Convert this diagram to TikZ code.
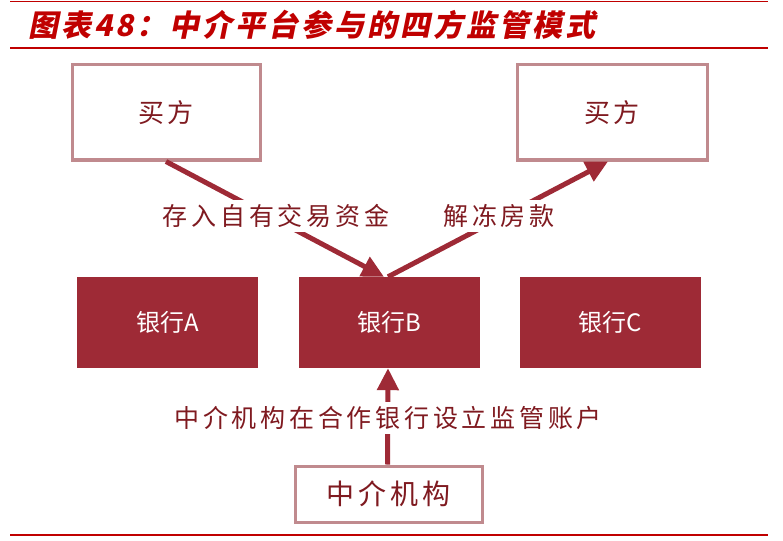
\documentclass[tikz,border=0pt]{standalone}
\usepackage{fontspec}
\setmainfont{Noto Sans CJK SC}
\newfontfamily\titlefont[LetterSpace=10,BoldFeatures={FakeSlant=0.2}]{Noto Sans CJK SC}
\newfontfamily\lblfont[LetterSpace=15]{Noto Sans CJK SC}
\usetikzlibrary{arrows.meta}
\definecolor{brick}{HTML}{9E2A36}
\definecolor{pinkline}{HTML}{C08A8E}
\definecolor{txtred}{HTML}{7F1A20}
\definecolor{titlered}{HTML}{C00000}
\tikzset{
  buyer/.style={draw=pinkline, line width=3pt, fill=white, text=txtred, font=\lblfont\fontsize{26}{30}\selectfont},
  bank/.style={fill=brick, text=white, minimum width=181pt, minimum height=91pt, font=\fontsize{24}{28}\selectfont},
  flow/.style={draw=brick, line width=5pt, -{Triangle[length=22pt,width=21pt]}},
  lbl/.style={fill=white, text=txtred, inner sep=4pt, font=\lblfont\fontsize{25}{29}\selectfont},
}
\begin{document}
\begin{tikzpicture}[x=1pt,y=-1pt]
\useasboundingbox (0,0) rectangle (783,540);
\draw[titlered, line width=1.2pt] (10,1.5) -- (768,1.5);
\draw[titlered, line width=1.2pt] (10,48) -- (768,48);
\node[anchor=west, text=titlered, inner sep=0pt, font=\titlefont\bfseries\fontsize{30}{33}\selectfont] (title) at (28,25) {图表48：中介平台参与的四方监管模式};
\draw[titlered, line width=1.2pt] (10,535) -- (768,535);

\node[buyer, minimum width=188pt, minimum height=95pt] (buyL) at (166,112.5) {买方};
\node[buyer, minimum width=190pt, minimum height=95pt] (buyR) at (612,112.5) {买方};
\node[bank] (bankA) at (167.5,322.5) {银行A};
\node[bank] (bankB) at (389,322.5) {银行B};
\node[bank] (bankC) at (610.5,322.5) {银行C};
\node[buyer, minimum width=187pt, minimum height=56pt, font=\lblfont\fontsize{28}{32}\selectfont] (agent) at (388.5,494) {中介机构};

\draw[flow] (buyL.south) -- ([xshift=-5pt]bankB.north);
\draw[flow] ([xshift=-1pt]bankB.north) -- ([xshift=-4pt]buyR.south);
\draw[flow] ([xshift=-1pt]agent.north) -- ([xshift=-1pt]bankB.south);

\node[lbl] (l1) at (276,216) {存入自有交易资金};
\node[lbl] (l2) at (499,216) {解冻房款};
\node[lbl] (l3) at (388,418) {中介机构在合作银行设立监管账户};
\end{tikzpicture}
\end{document}
